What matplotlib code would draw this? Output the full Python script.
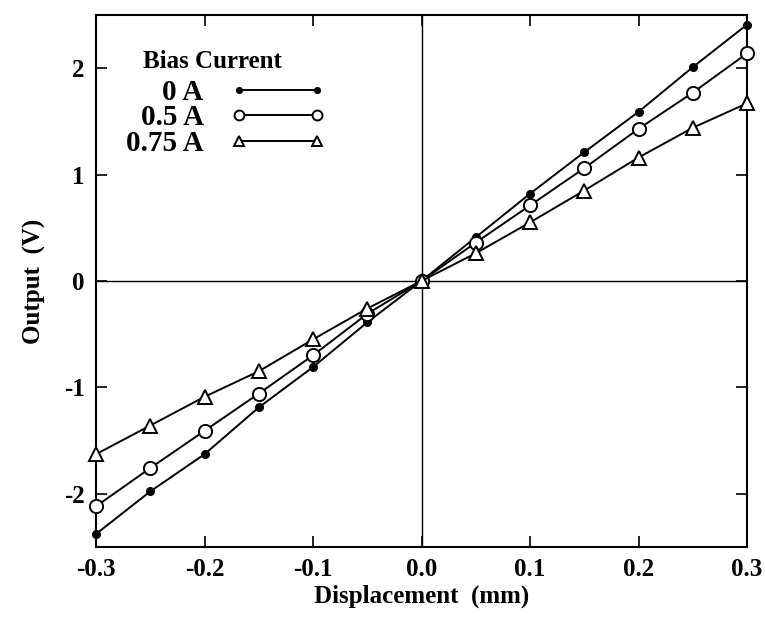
import matplotlib
matplotlib.use("Agg")
import matplotlib.pyplot as plt

plt.rcParams['font.family'] = ['Liberation Serif', 'DejaVu Serif']
plt.rcParams['font.weight'] = 'bold'
plt.rcParams['axes.labelweight'] = 'bold'
plt.rcParams['axes.unicode_minus'] = False

# displacement (mm)
disp = [-0.3, -0.25, -0.2, -0.15, -0.1, -0.05, 0.0, 0.05, 0.1, 0.15, 0.2, 0.25, 0.3]

# output (V) for each bias current
out_0A = [-2.38, -1.98, -1.63, -1.19, -0.81, -0.39, 0.0, 0.41, 0.82, 1.21, 1.59, 2.01, 2.41]
out_05A = [-2.12, -1.76, -1.41, -1.06, -0.70, -0.31, 0.0, 0.36, 0.71, 1.06, 1.43, 1.77, 2.14]
out_075A = [-1.63, -1.36, -1.09, -0.85, -0.55, -0.26, 0.0, 0.26, 0.55, 0.85, 1.16, 1.44, 1.67]

labels = ['0 A', '0.5 A', '0.75 A']
xticks = [-0.3, -0.2, -0.1, 0.0, 0.1, 0.2, 0.3]
xticklabels = ['-0.3', '-0.2', '-0.1', '0.0', '0.1', '0.2', '0.3']
yticks = [-2, -1, 0, 1, 2]

fig = plt.figure(figsize=(7.65, 6.27), dpi=100)
ax = fig.add_axes([0.1255, 0.128, 0.851, 0.848])

ax.axhline(0, color='k', lw=1.0, zorder=1)
ax.axvline(0, color='k', lw=1.0, zorder=1)

ax.plot(disp, out_0A, 'k-', marker='o', ms=5.5, mfc='k', mec='k', lw=1.4,
        label=labels[0], clip_on=False, zorder=3)
ax.plot(disp, out_05A, 'k-', marker='o', ms=9.5, mfc='white', mec='k', mew=1.4,
        lw=1.4, label=labels[1], clip_on=False, zorder=3)
ax.plot(disp, out_075A, 'k-', marker='^', ms=10.5, mfc='white', mec='k', mew=1.4,
        lw=1.4, label=labels[2], clip_on=False, zorder=3)

ax.set_xlim(-0.3, 0.3)
ax.set_ylim(-2.5, 2.5)
ax.set_xticks(xticks)
ax.set_xticklabels(xticklabels)
ax.set_yticks(yticks)
ax.tick_params(direction='in', length=8, width=1.2, top=True, right=True,
               labelsize=18, pad=8)
for s in ax.spines.values():
    s.set_linewidth(1.5)

ax.set_xlabel('Displacement  (mm)', fontsize=18, labelpad=3)
ax.set_ylabel('Output  (V)', fontsize=18, labelpad=13)

# legend title drawn as its own text, entries below it
ax.text(0.072, 0.912, 'Bias Current', transform=ax.transAxes, fontsize=18,
        ha='left', va='center')
leg = ax.legend(loc='upper left', bbox_to_anchor=(0.046, 0.88),
                frameon=False, markerfirst=False, numpoints=2,
                prop={'size': 21, 'weight': 'bold'},
                handlelength=3.3, handletextpad=0.9, markerscale=0.75,
                labelspacing=-0.05, borderpad=0, borderaxespad=0)

fig.savefig('out.png', dpi=100)
